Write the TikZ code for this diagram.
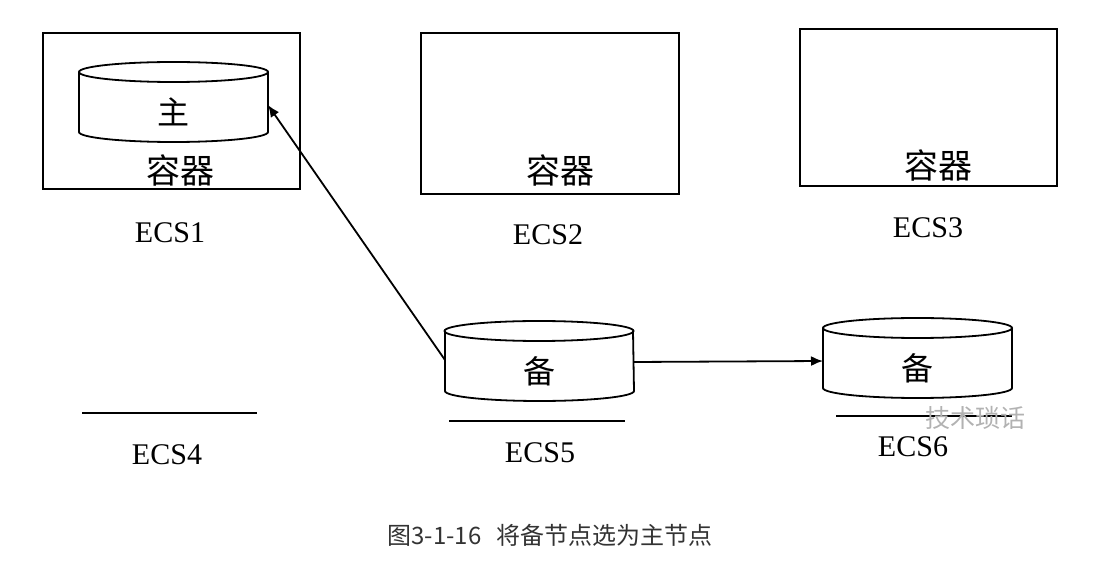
\documentclass[tikz,border=0pt]{standalone}
\usepackage{fontspec}
\setmainfont{Liberation Serif}
\newfontfamily\cjk{Noto Sans CJK SC}
\usetikzlibrary{arrows.meta}
\tikzset{
  hostbox/.style={draw, line width=1.8pt, minimum width=257pt,
                  minimum height=156pt, outer sep=0pt},
  drumbody/.style={minimum width=189pt, minimum height=60pt, inner sep=0pt,
                   outer sep=0pt, font=\cjk\fontsize{32}{38}\selectfont},
  drumline/.style={line width=1.8pt},
  boxtext/.style={font=\cjk\fontsize{34}{40}\selectfont},
  hostname/.style={font=\fontsize{30}{36}\selectfont},
  floorline/.style={line width=1.8pt},
  flowarrow/.style={-{Latex[length=12pt,width=10pt]}, line width=1.8pt},
  watermark/.style={font=\cjk\fontsize{25}{30}\selectfont, text=black!30},
  caption/.style={font=\cjk\fontsize{24}{28}\selectfont, text=black!80}
}
% cylinder drawn round the body node
\newcommand{\drum}[1]{%
  \draw[drumline] ([yshift=10pt]#1.north) ellipse[x radius=94.5pt, y radius=10pt];
  \draw[drumline] ([yshift=10pt]#1.north west) -- ([yshift=10pt]#1.south west)
    arc[start angle=180, end angle=360, x radius=94.5pt, y radius=10pt]
    -- ([yshift=10pt]#1.north east);
}

\begin{document}
\begin{tikzpicture}[x=1pt, y=1pt]
  \useasboundingbox (0,0) rectangle (1112,563);
  % hosts with containers
  \node[hostbox] (ecs1) at (171.5,452) {};
  \node[hostbox, minimum width=258pt, minimum height=161pt] (ecs2) at (550,449.5) {};
  \node[hostbox, minimum height=157pt] (ecs3) at (928.5,455.5) {};
  \node[boxtext] (box1) at (180,393) {容器};
  \node[boxtext] (box2) at (560,393) {容器};
  \node[boxtext] (box3) at (938,398) {容器};
  \node[hostname] (name1) at (170,330) {ECS1};
  \node[hostname] (name2) at (548,328) {ECS2};
  \node[hostname] (name3) at (928,335) {ECS3};
  % hosts without containers
  \draw[floorline] (82,150) -- (257,150);
  \draw[floorline] (449,142) -- (625,142);
  \draw[floorline] (836,147) -- (1012,147);
  \node[hostname] (name4) at (167,108) {ECS4};
  \node[hostname] (name5) at (540,110) {ECS5};
  \node[hostname] (name6) at (913,116) {ECS6};
  % databases
  \node[drumbody] (m1) at (173.5,451) {主};
  \node[drumbody, minimum width=188pt] (m5) at (539,192) {备};
  \node[drumbody] (m6) at (917.5,195) {备};
  \drum{m1}
  \drum{m5}
  \drum{m6}
  \draw[flowarrow] ([yshift=11pt]m5.west) -- ([yshift=7pt]m1.east);
  \draw[flowarrow] ([yshift=9pt]m5.east) -- ([yshift=7pt]m6.west);
  \node[watermark] (mark) at (975,145) {技术琐话};
  \node[caption] (cap) at (550,28) {图3-1-16\hspace{15pt}将备节点选为主节点};
\end{tikzpicture}
\end{document}
